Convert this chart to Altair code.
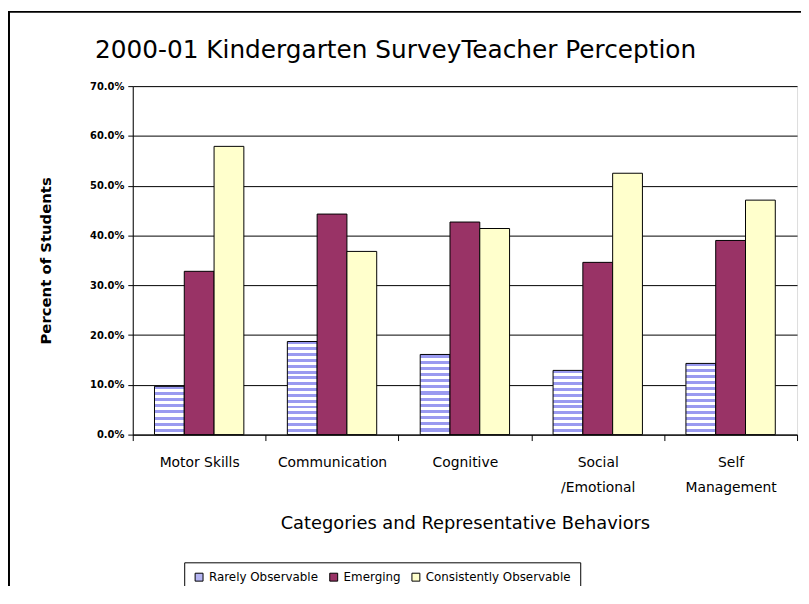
import altair as alt
import pandas as pd

categories = ["Motor Skills", "Communication", "Cognitive", "Social /Emotional", "Self Management"]
series = ["Rarely Observable", "Emerging", "Consistently Observable"]
rarely = [9.7, 18.7, 16.1, 12.9, 14.3]
emerging = [32.8, 44.3, 42.7, 34.6, 39.0]
consistently = [57.9, 36.8, 41.4, 52.5, 47.1]
y_ticks = [0, 10, 20, 30, 40, 50, 60, 70]

rows = []
for i, c in enumerate(categories):
    for s, vals in zip(series, [rarely, emerging, consistently]):
        rows.append({"category": c, "series": s, "value": vals[i] / 100.0})
df = pd.DataFrame(rows)

PLOT_W, PLOT_H = 671, 352
px_per_unit = PLOT_H / 0.70
STRIPE = 6.0


def stripes(height_px):
    n = max(1, round(height_px / STRIPE))
    stops = []
    for k in range(n):
        a = k / n
        m = (k + 0.5) / n
        b = (k + 1) / n
        stops += [
            {"offset": a, "color": "#9a9af0"},
            {"offset": m, "color": "#9a9af0"},
            {"offset": m, "color": "#ffffff"},
            {"offset": b, "color": "#ffffff"},
        ]
    return {"gradient": "linear", "x1": 0, "y1": 0, "x2": 0, "y2": 1, "stops": stops}


conds = []
for c, v in zip(categories, rarely):
    conds.append({
        "test": f"datum.series == 'Rarely Observable' && datum.category == '{c}'",
        "value": stripes(v / 100.0 * px_per_unit),
    })

fill_enc = {
    "field": "series",
    "type": "nominal",
    "scale": {"domain": series, "range": ["#b4b4f2", "#993366", "#ffffcc"]},
    "legend": {
        "title": None,
        "orient": "none",
        "direction": "horizontal",
        "legendX": 52,
        "legendY": 481,
        "strokeColor": "black",
        "padding": 9,
        "symbolType": "square",
        "symbolSize": 64,
        "symbolStrokeColor": "black",
        "symbolStrokeWidth": 1,
        "labelFont": "DejaVu Sans",
        "labelFontSize": 12,
        "labelColor": "black",
        "columnPadding": 9,
        "symbolOffset": 0,
    },
    "condition": conds,
}

label_expr = ("datum.value == 'Social /Emotional' ? ['Social', '/Emotional'] : "
              "datum.value == 'Self Management' ? ['Self', 'Management'] : datum.value")

bars = alt.Chart(df).mark_bar(stroke="black", strokeWidth=1).encode(
    x=alt.X("category:N", sort=categories,
            scale=alt.Scale(paddingInner=0, paddingOuter=0),
            axis=alt.Axis(title="Categories and Representative Behaviors", labelAngle=0,
                          tickBand="extent", tickSize=6, tickColor="black",
                          domainColor="black", labelExpr=label_expr,
                          labelLineHeight=25, labelPadding=15,
                          labelFont="DejaVu Sans", labelFontSize=14, labelColor="black",
                          titleFont="DejaVu Sans", titleFontSize=18, titleFontWeight="normal",
                          titleColor="black", titlePadding=21)),
    xOffset=alt.XOffset("series:N", sort=series,
                        scale=alt.Scale(domain=series, paddingInner=0, paddingOuter=0.73)),
    y=alt.Y("value:Q", scale=alt.Scale(domain=[0, 0.7], nice=False),
            axis=alt.Axis(title="Percent of Students", format=".1%", values=[t / 100 for t in y_ticks],
                          grid=True, gridColor="black", gridOpacity=1, gridWidth=1,
                          tickSize=5, tickColor="black", domainColor="black",
                          labelFont="DejaVu Sans", labelFontSize=10, labelFontWeight="bold",
                          labelColor="black", labelPadding=4,
                          titleFont="DejaVu Sans", titleFontSize=15, titleFontWeight="bold",
                          titleColor="black", titlePadding=36)),
    fill=fill_enc,
)

frame = alt.Chart(pd.DataFrame({"a": [0]})).mark_rect(
    fill=None, stroke="black", strokeWidth=2
).encode(x=alt.value(-125), x2=alt.value(700), y=alt.value(-75), y2=alt.value(540))

chart = alt.layer(bars, frame).properties(
    width=PLOT_W, height=PLOT_H,
    title=alt.TitleParams("2000-01 Kindergarten SurveyTeacher Perception",
                          font="DejaVu Sans", fontSize=25, fontWeight="normal",
                          color="black", anchor="middle", offset=0, dx=-70, dy=53),
    autosize=alt.AutoSizeParams(type="none"),
    padding={"left": 126, "top": 76, "right": 4, "bottom": 150},
).configure_view(stroke="black", strokeWidth=1).configure(background="white")

chart.save("out.html", embed_options={"renderer": "svg", "actions": False})
